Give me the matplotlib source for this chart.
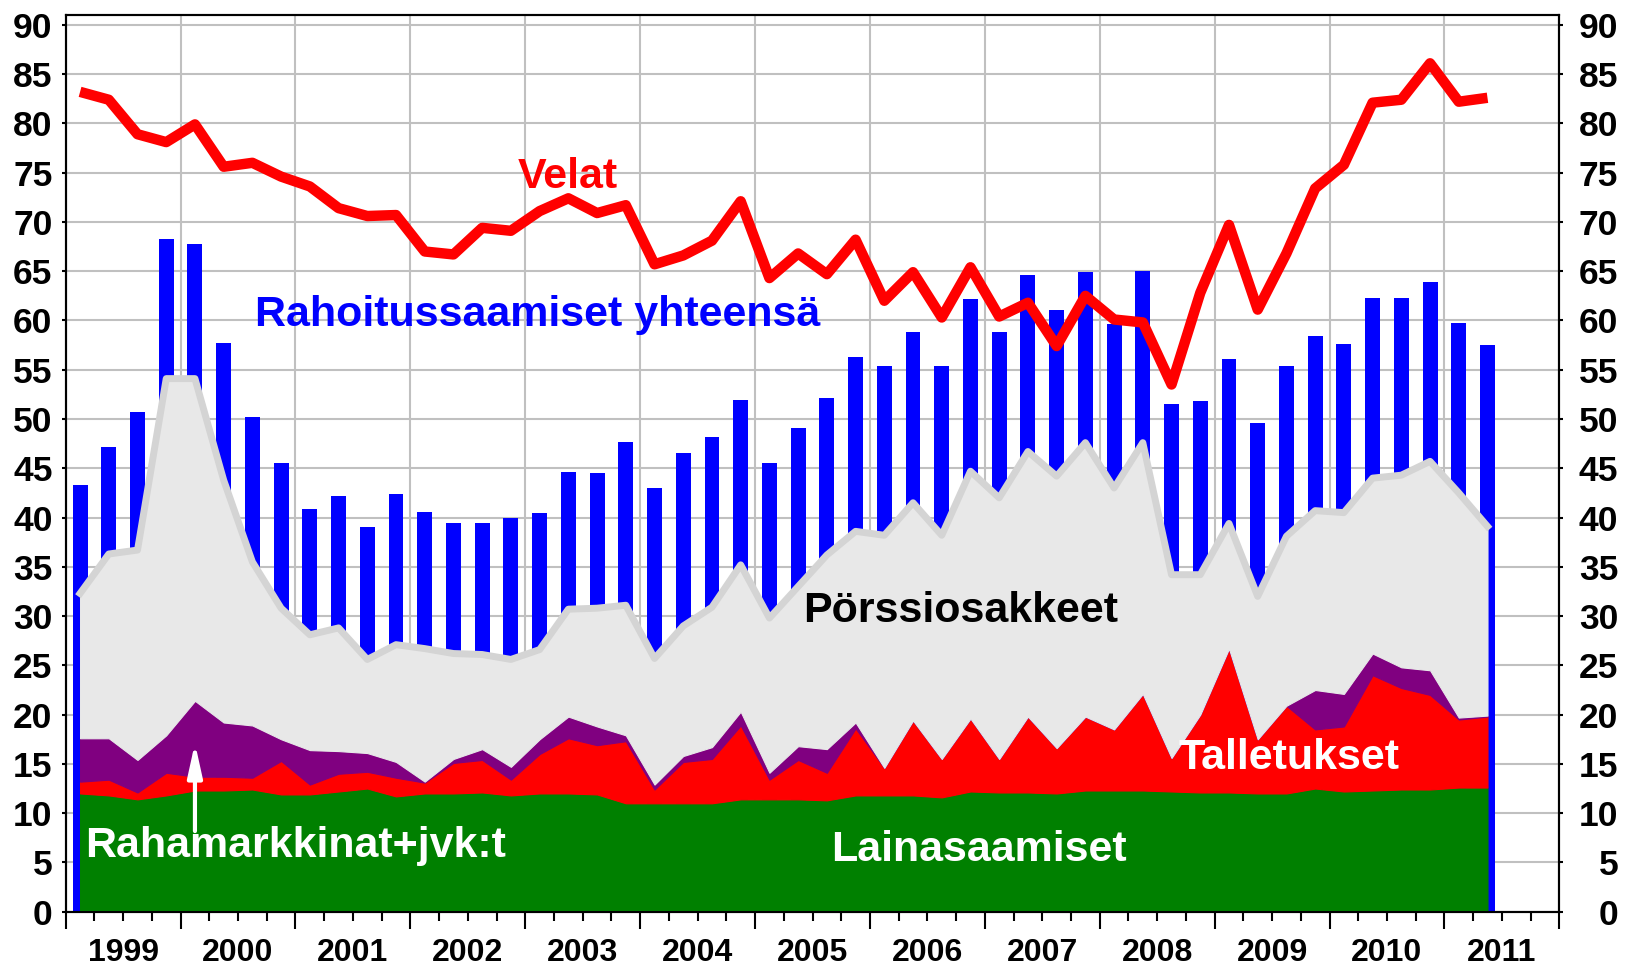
import numpy as np
import matplotlib
matplotlib.use('Agg')
import matplotlib.pyplot as plt

plt.rcParams['font.family'] = ['Liberation Sans', 'DejaVu Sans']
plt.rcParams['font.weight'] = 'bold'

# quarterly data 1999Q1 - 2011Q2
years = list(range(1999, 2012))

velat = [83.2, 82.4, 78.9, 78.1, 79.9, 75.6, 76.0, 74.6,
         73.6, 71.4, 70.6, 70.7, 67.0, 66.7, 69.4, 69.1,
         71.1, 72.4, 70.9, 71.7, 65.7, 66.6, 68.1, 72.1,
         64.3, 66.8, 64.7, 68.2, 62.0, 64.9, 60.3, 65.4,
         60.4, 61.8, 57.4, 62.5, 60.1, 59.8, 53.5, 62.8,
         69.7, 61.1, 66.8, 73.4, 75.8, 82.1, 82.4, 86.1,
         82.2, 82.6]

rahoitussaamiset = [43.3, 47.2, 50.7, 68.3, 67.8, 57.7, 50.2, 45.5,
                    40.9, 42.2, 39.0, 42.4, 40.6, 39.4, 39.4, 40.0,
                    40.5, 44.6, 44.5, 47.7, 43.0, 46.5, 48.2, 51.9,
                    45.5, 49.1, 52.1, 56.3, 55.4, 58.8, 55.4, 62.2,
                    58.8, 64.6, 61.1, 64.9, 59.6, 65.0, 51.5, 51.8,
                    56.1, 49.6, 55.4, 58.4, 57.6, 62.3, 62.3, 63.9,
                    59.7, 57.5]

lainasaamiset = [12.0, 11.8, 11.4, 11.8, 12.3, 12.3, 12.4, 11.9,
                 11.9, 12.2, 12.5, 11.7, 12.0, 12.0, 12.1, 11.8,
                 12.0, 12.0, 11.9, 11.0, 11.0, 11.0, 11.0, 11.4,
                 11.4, 11.4, 11.3, 11.8, 11.8, 11.8, 11.6, 12.2,
                 12.1, 12.1, 12.0, 12.3, 12.3, 12.3, 12.2, 12.1,
                 12.1, 12.0, 12.0, 12.5, 12.2, 12.3, 12.4, 12.4,
                 12.6, 12.6]

talletukset = [1.2, 1.6, 0.7, 2.3, 1.4, 1.4, 1.2, 3.4,
               1.0, 1.8, 1.7, 1.9, 1.1, 3.1, 3.3, 1.6,
               4.0, 5.6, 5.0, 6.3, 1.4, 4.2, 4.5, 7.5,
               2.0, 4.0, 2.8, 6.8, 2.8, 7.6, 3.9, 7.4,
               3.4, 7.7, 4.6, 7.5, 6.2, 9.8, 3.4, 7.9,
               14.6, 5.5, 8.9, 6.0, 6.6, 11.7, 10.3, 9.6,
               6.9, 7.2]

rahamarkkinat = [4.4, 4.2, 3.3, 3.8, 7.7, 5.5, 5.3, 2.2,
                 3.5, 2.3, 1.9, 1.6, 0.1, 0.4, 1.1, 1.3,
                 1.5, 2.2, 1.9, 0.6, 0.5, 0.6, 1.2, 1.4,
                 0.7, 1.4, 2.4, 0.6, 0.0, 0.0, 0.0, 0.0,
                 0.0, 0.0, 0.0, 0.0, 0.0, 0.0, 0.0, 0.0,
                 0.0, 0.0, 0.0, 4.0, 3.3, 2.2, 2.1, 2.5,
                 0.2, 0.1]

porssiosakkeet = [14.7, 18.7, 21.3, 36.2, 32.7, 24.6, 16.6, 13.3,
                  11.7, 12.5, 9.5, 11.9, 13.5, 10.7, 9.6, 10.9,
                  9.1, 10.9, 12.0, 13.2, 12.8, 13.2, 14.2, 14.9,
                  15.7, 16.2, 19.7, 19.4, 23.6, 22.1, 22.7, 25.1,
                  26.5, 26.9, 27.6, 27.8, 24.5, 25.5, 18.6, 14.2,
                  12.7, 14.5, 17.2, 18.2, 18.4, 17.8, 19.5, 21.2,
                  22.8, 19.2]

x = years[0] + (np.arange(len(velat)) + 0.5) / 4

fig = plt.figure(figsize=(16.32, 9.66), dpi=100)
ax = fig.add_axes([65.7 / 1632, 54.3 / 966, 1493.6 / 1632, 896.7 / 966])

ax.bar(x, rahoitussaamiset, width=0.13, color='#0000FF', zorder=2)

areas = ax.stackplot(x, lainasaamiset, talletukset, rahamarkkinat, porssiosakkeet,
                     colors=['#008000', '#FF0000', '#800080', '#E8E8E8'], zorder=3)
for a in areas:
    a.set_edgecolor(a.get_facecolor())
    a.set_linewidth(0.8)

top = np.sum([lainasaamiset, talletukset, rahamarkkinat, porssiosakkeet], axis=0)
ax.plot(x, top, color='#D4D4D4', lw=5, zorder=4, solid_joinstyle='round')
ax.plot(x, velat, color='#FF0000', lw=7.5, zorder=5, solid_joinstyle='round',
        solid_capstyle='butt')

# labels
fs = 31
ax.text(2003.37, 73.4, 'Velat', color='#FF0000', fontsize=fs, ha='center', zorder=6)
ax.text(2003.11, 59.4, 'Rahoitussaamiset yhteensä', color='#0000FF', fontsize=fs,
        ha='center', zorder=6)
ax.text(2006.79, 29.4, 'Pörssiosakkeet', color='black', fontsize=fs, ha='center', zorder=6)
ax.text(2009.65, 14.5, 'Talletukset', color='white', fontsize=fs, ha='center', zorder=6)
ax.text(2006.95, 5.1, 'Lainasaamiset', color='white', fontsize=fs, ha='center', zorder=6)
ax.text(2001.0, 5.6, 'Rahamarkkinat+jvk:t', color='white', fontsize=fs, ha='center', zorder=6)
ax.annotate('', xy=(2000.125, 17.4), xytext=(2000.125, 7.9),
            arrowprops=dict(arrowstyle='-|>,head_length=1.0,head_width=0.22',
                            color='white', lw=3, mutation_scale=20), zorder=6)

# axes
ax.set_xlim(1999, 2012)
ax.set_ylim(0, 91)
ax.set_yticks(np.arange(0, 91, 5))
ax.set_xticks(years + [2012])
ax.set_xticklabels([])
quarters = np.arange(1999, 2012, 0.25)
ax.set_xticks(quarters, minor=True)
ax.set_xticklabels([str(int(q)) if q % 1 == 0.5 else '' for q in quarters], minor=True)
ax.grid(True, which='major', color='#C0C0C0', lw=1.5)
ax.set_axisbelow(True)
for s in ax.spines.values():
    s.set_linewidth(1.5)

ax.tick_params(axis='x', which='major', direction='out', length=12, width=1.5)
ax.tick_params(axis='x', which='minor', direction='out', length=6.5, width=1.5,
               labelsize=23, pad=12.5)
ax.tick_params(axis='y', which='major', direction='out', length=3, width=1.5,
               labelsize=25.5, pad=6.5)

ax2 = ax.twinx()
ax2.set_ylim(0, 91)
ax2.set_yticks(np.arange(0, 91, 5))
ax2.tick_params(axis='y', direction='out', length=3, width=1.5, labelsize=25.5, pad=39.5)
for lbl in ax2.get_yticklabels():
    lbl.set_horizontalalignment('right')
for s in ax2.spines.values():
    s.set_linewidth(1.5)

fig.savefig('out.png', dpi=100)
